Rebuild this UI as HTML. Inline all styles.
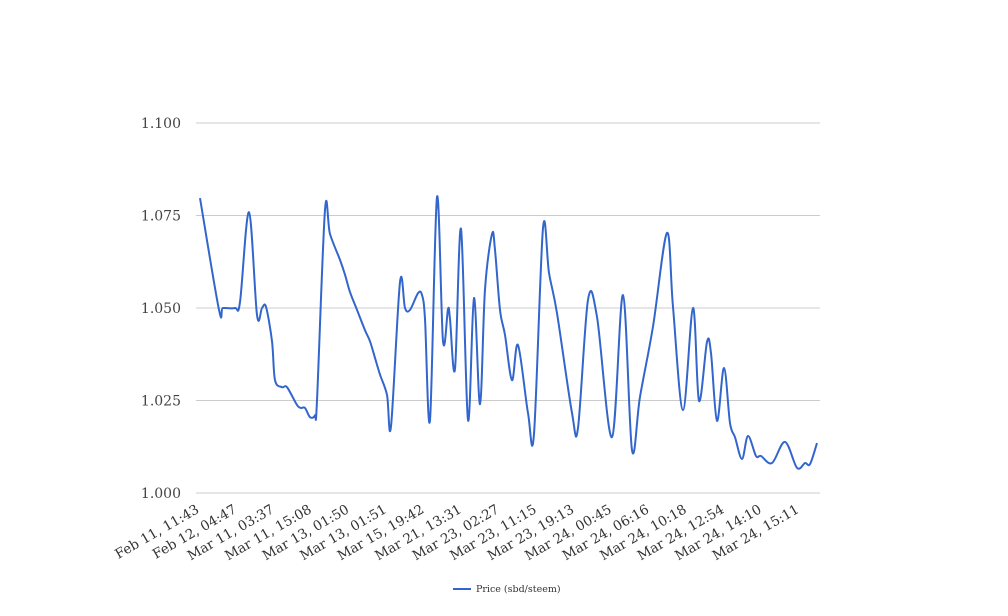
<!DOCTYPE html>
<html><head><meta charset="utf-8"><style>
html,body{margin:0;padding:0;background:#fff;}
svg{display:block;font-family:"DejaVu Serif","Liberation Serif",serif;}
</style></head><body>
<svg id="chart" width="1008" height="616"></svg>
<script>
const yTicks=[1.000,1.025,1.050,1.075,1.100];
const xLabels=["Feb 11, 11:43","Feb 12, 04:47","Mar 11, 03:37","Mar 11, 15:08","Mar 13, 01:50","Mar 13, 01:51","Mar 15, 19:42","Mar 21, 13:31","Mar 23, 02:27","Mar 23, 11:15","Mar 23, 19:13","Mar 24, 00:45","Mar 24, 06:16","Mar 24, 10:18","Mar 24, 12:54","Mar 24, 14:10","Mar 24, 15:11"];
const times=[0,19,23,35,40,49,57,62,66,72,75,82,87,97,101,105,110,115,117,125,130,140,145,150,157,165,170,175,180,187,191,200,205,210,218,222,225,230,237,243,248,250,255,261,268,274,280,285,292,295,300,305,312,318,328,334,343,349,357,372,378,388,397,412,423,432,440,453,467,473,483,493,499,507,511,517,524,530,535,542,548,556,561,572,585,597,605,610,617];
const prices=[1.0797,1.0495,1.050,1.050,1.0516,1.0759,1.0481,1.050,1.0503,1.041,1.0305,1.0286,1.0286,1.0238,1.0230,1.023,1.0205,1.021,1.025,1.0765,1.070,1.063,1.059,1.0543,1.0495,1.044,1.041,1.0365,1.032,1.0265,1.018,1.057,1.050,1.0495,1.054,1.0535,1.047,1.0197,1.080,1.041,1.0497,1.047,1.0335,1.0714,1.0197,1.0527,1.024,1.055,1.070,1.0657,1.0495,1.0427,1.0305,1.040,1.0216,1.016,1.0716,1.0595,1.0486,1.0216,1.0176,1.0522,1.0476,1.0151,1.0535,1.0116,1.026,1.045,1.0703,1.0503,1.0224,1.050,1.0249,1.0408,1.0378,1.0195,1.0338,1.0189,1.0151,1.0092,1.0154,1.010,1.010,1.0081,1.0138,1.0068,1.0081,1.0078,1.0135];
const NS="http://www.w3.org/2000/svg";
const svg=document.getElementById('chart');
const X0=196,X1=820,Y0=493,Y1=123;
const yScale=v=>Y0+(v-1.0)/(0.1)*(Y1-Y0);
const xScale=t=>200+t;
const labelX=i=>200+i*37.5;
function mk(tag,attrs){const e=document.createElementNS(NS,tag);for(const k in attrs)e.setAttribute(k,attrs[k]);svg.appendChild(e);return e;}
yTicks.forEach((v,i)=>{
 const g=mk('line',{x1:X0,x2:X1,y1:yScale(v),y2:yScale(v),stroke:'#cccccc','stroke-width':1});
 
 
 const t=mk('text',{x:181,y:yScale(v)+5,'text-anchor':'end','font-size':14,fill:'#444'});
 t.textContent=v.toFixed(3);
 
 
});
xLabels.forEach((s,i)=>{
 const x=labelX(i);
 const t=mk('text',{x:x,y:512,'text-anchor':'end','font-size':13.5,fill:'#333',transform:`rotate(-30 ${x} 512)`});
 t.textContent=s;
 
 
});
const pts=times.map((t,i)=>[xScale(t),yScale(prices[i])]);
let d=`M${pts[0][0]},${pts[0][1]}`;
for(let i=0;i<pts.length-1;i++){
 const p0=pts[Math.max(0,i-1)],p1=pts[i],p2=pts[i+1],p3=pts[Math.min(pts.length-1,i+2)];
 const k=1/6;
 d+=` C${p1[0]+(p2[0]-p0[0])*k},${p1[1]+(p2[1]-p0[1])*k} ${p2[0]-(p3[0]-p1[0])*k},${p2[1]-(p3[1]-p1[1])*k} ${p2[0]},${p2[1]}`;
}
const line=mk('path',{d:d,fill:'none',stroke:'#3366cc','stroke-width':2,'stroke-linejoin':'round'});


const ll=mk('line',{x1:453,x2:471,y1:589,y2:589,stroke:'#3366cc','stroke-width':2});


const lt=mk('text',{x:476,y:592,'font-size':9.5,fill:'#333'});
lt.textContent='Price (sbd/steem)';


</script>
</body></html>
